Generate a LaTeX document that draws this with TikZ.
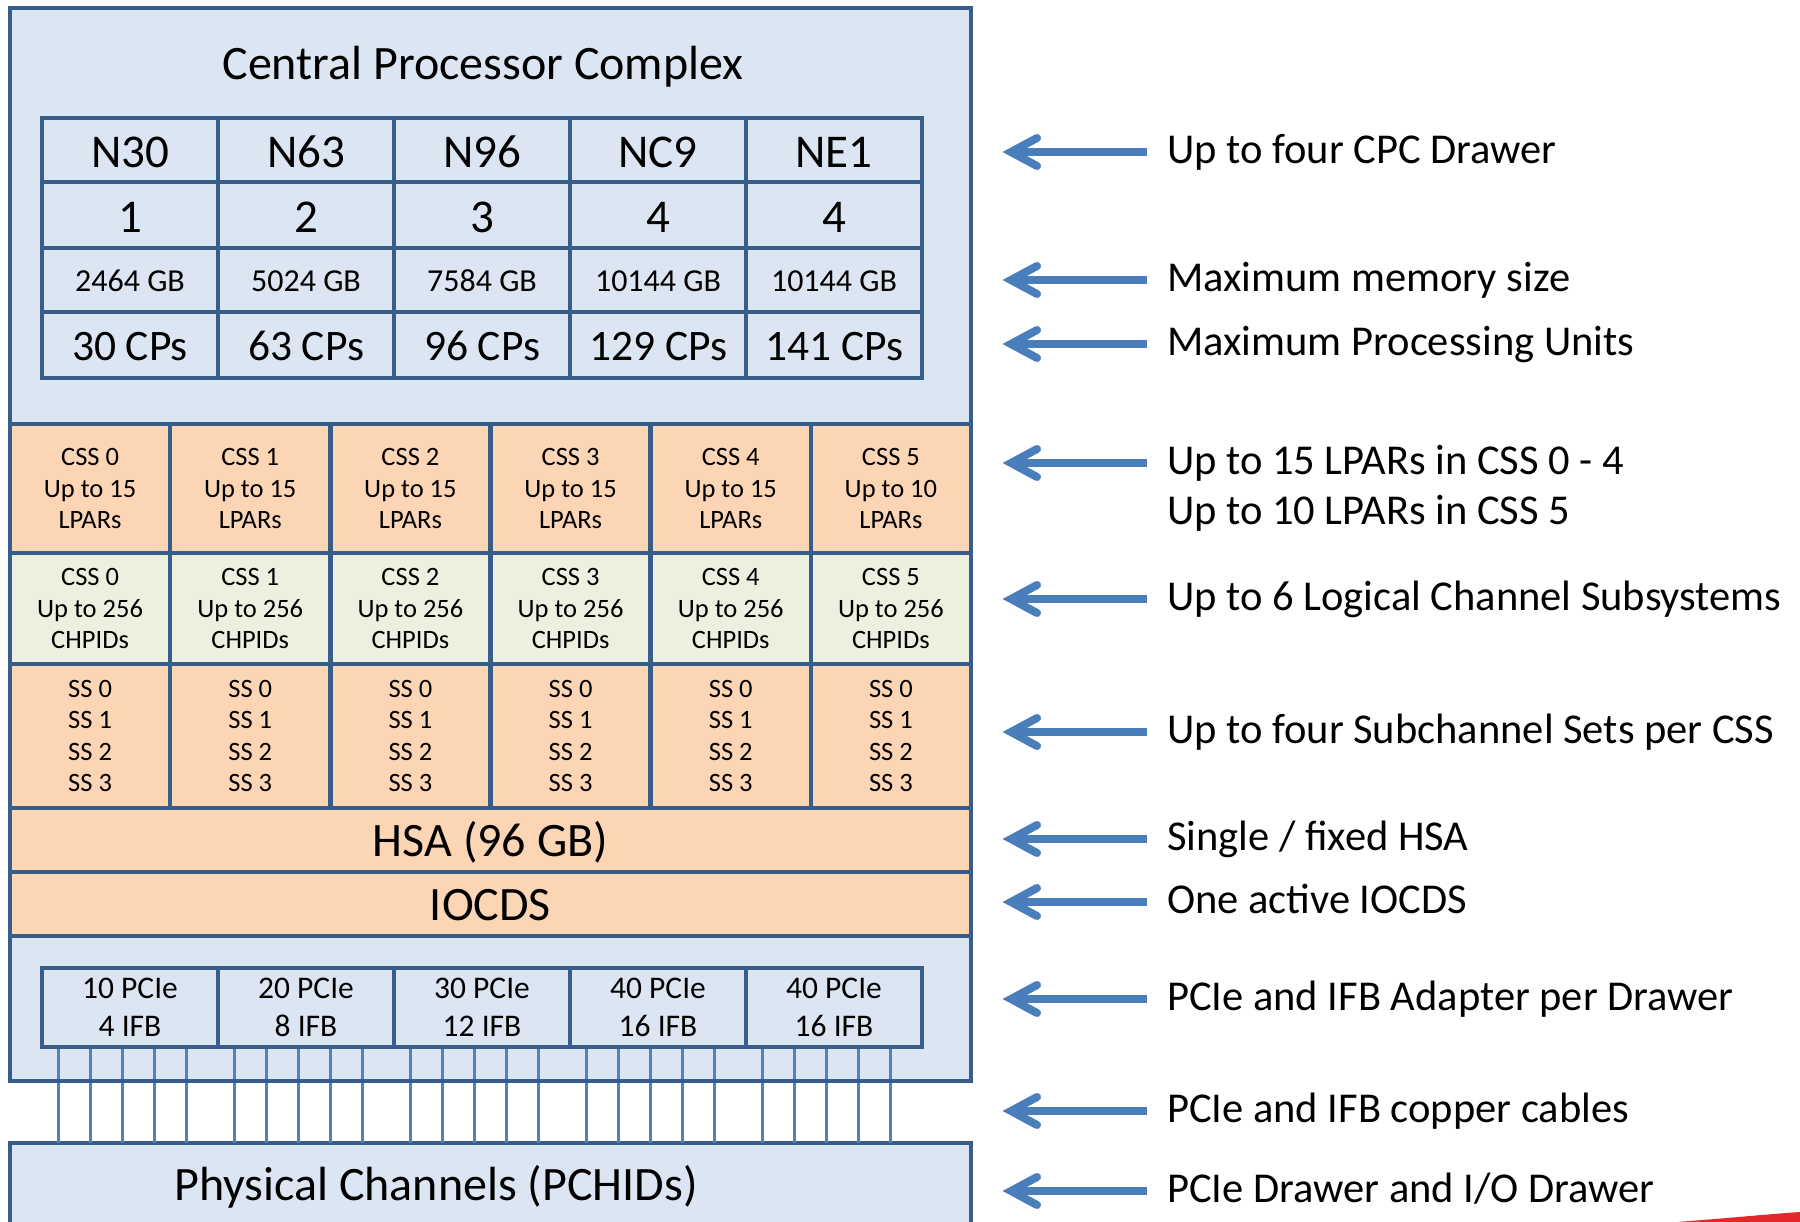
\documentclass[tikz,border=0pt]{standalone}
\usepackage{fontspec}
\setmainfont{Carlito}
\usetikzlibrary{calc}

\definecolor{frame}{HTML}{385D8A}
\definecolor{paleblue}{HTML}{DCE6F2}
\definecolor{peach}{HTML}{FCD5B5}
\definecolor{sage}{HTML}{EBF1DE}
\definecolor{pointer}{HTML}{4A7EBB}
\definecolor{cablecol}{HTML}{4F81BD}
\definecolor{swoosh}{HTML}{E2282A}

\newcommand\fsz[2]{\fontsize{#1}{#2}\selectfont}

\begin{document}
\begin{tikzpicture}[x=1pt,y=-1pt,
  cell/.style={draw=frame, line width=4.5pt, inner sep=0pt, outer sep=0pt, align=center},
  capbox/.style={text height=#1, text depth=0pt},
  shaft/.style={draw=pointer, line width=8pt},
  barb/.style={draw=pointer, line width=8pt, line cap=round, line join=miter},
  cable/.style={draw=cablecol, line width=3pt},
  note/.style={anchor=base west, inner sep=0pt, font=\fsz{42.5}{50}}
]
\useasboundingbox (0,0) rectangle (1800,1222);

% Central Processor Complex enclosure
\node[fill=paleblue, inner sep=0pt, outer sep=0pt, minimum width=961, minimum height=1073] (cpc) at (490.5,544.5) {};
\node[anchor=base, inner sep=0pt, font=\fsz{48}{58}] (cpctitle) at (483,80) {Central Processor Complex};

% machine models: drawers, memory, processing units
\foreach \m/\d/\g/\c [count=\i] in {N30/1/2464 GB/30 CPs, N63/2/5024 GB/63 CPs, N96/3/7584 GB/96 CPs, NC9/4/10144 GB/129 CPs, NE1/4/10144 GB/141 CPs} {
  \pgfmathsetmacro\cx{130+176*(\i-1)}
  \node[cell, fill=paleblue, minimum width=176, minimum height=64, font=\fsz{47}{56}, capbox=35pt] (model-\i) at (\cx,150) {\m};
  \node[cell, fill=paleblue, minimum width=176, minimum height=66, font=\fsz{47}{56}, capbox=35pt] (drw-\i) at (\cx,215) {\d};
  \node[cell, fill=paleblue, minimum width=176, minimum height=64, font=\fsz{32}{38}, capbox=22.5pt] (mem-\i) at (\cx,280) {\g};
  \node[cell, fill=paleblue, minimum width=176, minimum height=66, font=\fsz{43.5}{52}, capbox=32pt] (cp-\i) at (\cx,345) {\c};
}

% channel subsystems: LPARs, CHPIDs, subchannel sets
\foreach \n/\l [count=\i] in {0/15, 1/15, 2/15, 3/15, 4/15, 5/10} {
  \pgfmathsetmacro\cx{10+160.1667*(\i-0.5)}
  \node[cell, fill=peach, minimum width=160.17, minimum height=129, font=\fsz{26.5}{31.5}] (lpar-\i) at (\cx,488.5) {CSS \n\\Up to \l\\LPARs};
  \node[cell, fill=sage, minimum width=160.17, minimum height=111, font=\fsz{26.5}{31.5}] (chpid-\i) at (\cx,608.5) {CSS \n\\Up to 256\\CHPIDs};
  \node[cell, fill=peach, minimum width=160.17, minimum height=144, font=\fsz{26.5}{31.5}] (ss-\i) at (\cx,736) {SS 0\\SS 1\\SS 2\\SS 3};
}

\node[cell, fill=peach, minimum width=961, minimum height=64, font=\fsz{48}{58}, capbox=33pt] (hsa) at (490.5,840) {HSA (96 GB)};
\node[cell, fill=peach, minimum width=961, minimum height=64, font=\fsz{48}{58}, capbox=33pt] (iocds) at (490.5,904) {IOCDS};

% physical channel drawers
\node[fill=paleblue, draw=frame, line width=4.5pt, inner sep=0pt, outer sep=0pt, minimum width=961, minimum height=100] (pch) at (490.5,1193) {};
\node[anchor=base, inner sep=0pt, font=\fsz{48}{58}] (pchtext) at (436,1200) {Physical Channels (PCHIDs)};

% adapters per drawer
\foreach \p/\f [count=\i] in {10/4, 20/8, 30/12, 40/16, 40/16} {
  \pgfmathsetmacro\cx{130+176*(\i-1)}
  \coordinate (pcpos-\i) at (\cx,1007.5);
}
% copper cables between adapters and physical channels
\foreach \i in {1,...,5} {
  \foreach \k in {0,...,4} {
    \path ($(pcpos-\i)+(-88+16.5+32*\k,39.5)$) coordinate (cabtop-\i-\k);
    \draw[cable] (cabtop-\i-\k) -- (cabtop-\i-\k |- pch.north);
  }
}
\foreach \p/\f [count=\i] in {10/4, 20/8, 30/12, 40/16, 40/16} {
  \node[cell, fill=paleblue, minimum width=176, minimum height=79, font=\fsz{31.5}{38}] (pcie-\i) at (pcpos-\i) {\p\ PCIe\\\f\ IFB};
}

% enclosure outline on top
\draw[frame, line width=4.5pt] (cpc.north west) rectangle (cpc.south east);

% annotations
\foreach \y/\t [count=\j] in {
  152/{Up to four CPC Drawer},
  280/{Maximum memory size},
  344/{Maximum Processing Units},
  463/{Up to 15 LPARs in CSS 0 - 4},
  599/{Up to 6 Logical Channel Subsystems},
  732/{Up to four Subchannel Sets per CSS},
  839/{Single / fixed HSA},
  902/{One active IOCDS},
  999/{PCIe and IFB Adapter per Drawer},
  1111/{PCIe and IFB copper cables},
  1191/{PCIe Drawer and I/O Drawer}} {
  \node[note] (note-\j) at (1167,\y+11.5) {\t};
  \coordinate (tail-\j) at (1147,\y);
  \coordinate (tip-\j) at (1011,\y);
  \draw[shaft] (tail-\j) -- (tip-\j);
  \draw[barb] ($(tip-\j)+(26,-14)$) -- (tip-\j) -- ($(tip-\j)+(26,14)$);
}
\node[note] (note-4b) at (1167,463+61.5) {Up to 10 LPARs in CSS 5};

% red stroke at the lower edge
\fill[swoosh] (1677,1222) .. controls (1730,1218) and (1770,1214) .. (1800,1212) -- (1800,1222) -- cycle;
\end{tikzpicture}
\end{document}
